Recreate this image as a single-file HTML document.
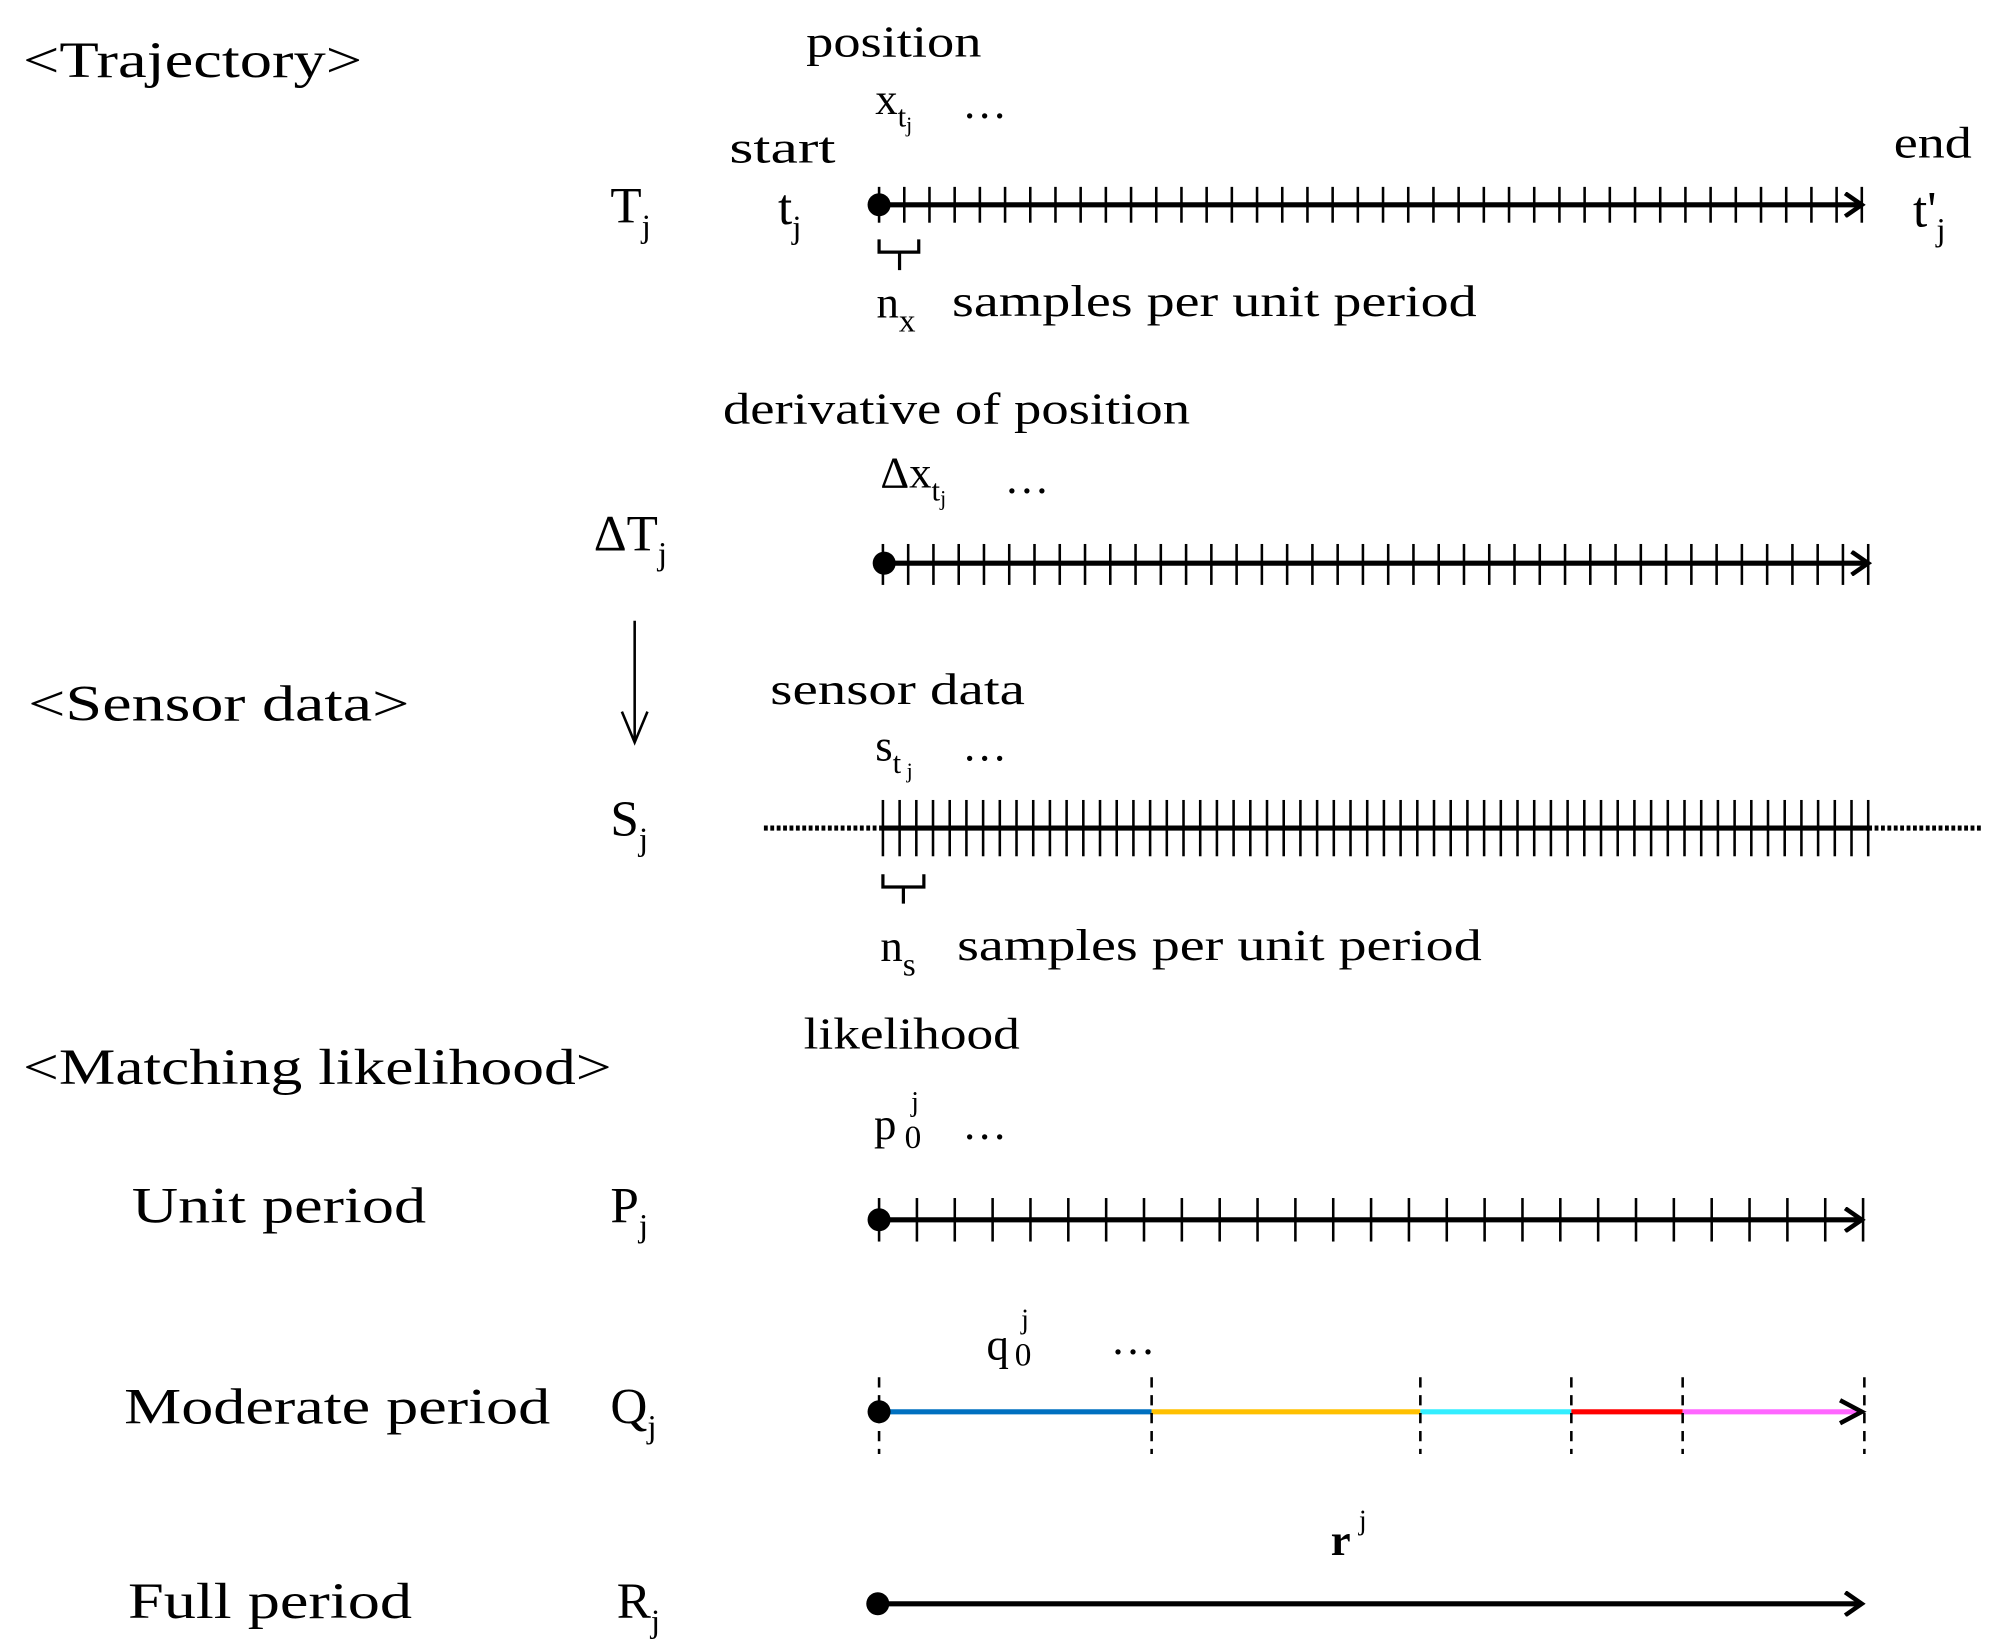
<!DOCTYPE html>
<html><head><meta charset="utf-8"><style>
html,body{margin:0;padding:0;background:#fff;}
svg{display:block;}
text{font-family:"Liberation Serif",serif;fill:#000;}
</style></head><body>
<svg id="s" width="2000" height="1646" viewBox="0 0 1563 1286" preserveAspectRatio="none" xmlns="http://www.w3.org/2000/svg">
<defs>
<marker id="ah" viewBox="0 0 20 20" refX="17" refY="10" markerWidth="20" markerHeight="20" markerUnits="userSpaceOnUse" orient="auto">
<path d="M4,1 L17,10 L4,19" fill="none" stroke="#000" stroke-width="3.5"/>
</marker>
</defs>
<g font-size="40" lengthAdjust="spacingAndGlyphs">
<text x="18" y="60" textLength="265" lengthAdjust="spacingAndGlyphs">&lt;Trajectory&gt;</text>
<text x="22" y="563" textLength="298" lengthAdjust="spacingAndGlyphs">&lt;Sensor data&gt;</text>
<text x="18" y="847" textLength="460" lengthAdjust="spacingAndGlyphs">&lt;Matching likelihood&gt;</text>
<text x="103" y="955" textLength="230" lengthAdjust="spacingAndGlyphs">Unit period</text>
<text x="97" y="1112" textLength="333" lengthAdjust="spacingAndGlyphs">Moderate period</text>
<text x="100" y="1264" textLength="222" lengthAdjust="spacingAndGlyphs">Full period</text>
</g>
<g font-size="40">
<text x="477" y="174">T<tspan font-size="26" dy="11">j</tspan></text>
<text x="464" y="430">ΔT<tspan font-size="26" dy="11">j</tspan></text>
<text x="477" y="653">S<tspan font-size="26" dy="11">j</tspan></text>
<text x="477" y="955">P<tspan font-size="26" dy="11">j</tspan></text>
<text x="477" y="1112">Q<tspan font-size="26" dy="11">j</tspan></text>
<text x="482" y="1264">R<tspan font-size="26" dy="11">j</tspan></text>
<text x="608" y="175">t<tspan font-size="26" dy="11">j</tspan></text>
<text x="1495" y="177">t'<tspan font-size="26" dy="11">j</tspan></text>
</g>
<g font-size="35">
<text x="630" y="44" textLength="137" lengthAdjust="spacingAndGlyphs">position</text>
<text x="570" y="127" textLength="83" lengthAdjust="spacingAndGlyphs">start</text>
<text x="1480" y="123" textLength="61" lengthAdjust="spacingAndGlyphs">end</text>
<text x="565" y="331" textLength="365" lengthAdjust="spacingAndGlyphs">derivative of position</text>
<text x="602" y="550" textLength="199" lengthAdjust="spacingAndGlyphs">sensor data</text>
<text x="628" y="819" textLength="169" lengthAdjust="spacingAndGlyphs">likelihood</text>
<text x="744" y="247" textLength="410" lengthAdjust="spacingAndGlyphs">samples per unit period</text>
<text x="748" y="750" textLength="410" lengthAdjust="spacingAndGlyphs">samples per unit period</text>
<text x="684" y="89">x<tspan font-size="24" dy="10">t</tspan><tspan font-size="17" dy="4">j</tspan></text>
<text x="752" y="92">…</text>
<text x="688" y="381">Δx<tspan font-size="24" dy="10">t</tspan><tspan font-size="17" dy="4">j</tspan></text>
<text x="785" y="385">…</text>
<text x="684" y="594">s<tspan font-size="24" dy="10">t</tspan><tspan font-size="17" dy="4"> j</tspan></text>
<text x="752" y="594">…</text>
<text x="685" y="248">n<tspan font-size="26" dy="11">x</tspan></text>
<text x="688" y="751">n<tspan font-size="26" dy="11">s</tspan></text>
<text x="683" y="890">p</text><text x="707" y="897" font-size="26">0</text><text x="712" y="868" font-size="22">j</text>
<text x="752" y="890">…</text>
<text x="771" y="1062">q</text><text x="793" y="1067" font-size="26">0</text><text x="798" y="1038" font-size="22">j</text>
<text x="868" y="1058">…</text>
<text x="1040" y="1215" font-weight="bold">r</text><text x="1062" y="1195" font-size="22">j</text>
</g>
<g id="lines" stroke="#000" fill="none">
<line x1="687" y1="160" x2="1455" y2="160" stroke-width="4" marker-end="url(#ah)"/>
<line x1="690" y1="440" x2="1460" y2="440" stroke-width="4" marker-end="url(#ah)"/>
<line x1="690" y1="647" x2="1460" y2="647" stroke-width="4"/>
<line x1="597" y1="647" x2="690" y2="647" stroke-width="4" stroke-dasharray="3,2"/>
<line x1="1460" y1="647" x2="1548" y2="647" stroke-width="4" stroke-dasharray="3,2"/>
<line x1="687" y1="953" x2="1455" y2="953" stroke-width="4" marker-end="url(#ah)"/>
<line x1="687" y1="1253" x2="1455" y2="1253" stroke-width="4" marker-end="url(#ah)"/>
<line x1="496" y1="485" x2="496" y2="578" stroke-width="2"/>
<path d="M486,556 L496,580 L506,556" stroke-width="2"/>
<path d="M687,187 V197 H718 V187 M703,197 V211" stroke-width="2.5"/>
<path d="M690,683 V693 H722 V683 M706,693 V706" stroke-width="2.5"/>
</g>
<g id="ticks" stroke="#000" stroke-width="2"></g>
<g stroke-width="4">
<line x1="687" y1="1103" x2="900" y2="1103" stroke="#0070C0"/>
<line x1="900" y1="1103" x2="1110" y2="1103" stroke="#FFC000"/>
<line x1="1110" y1="1103" x2="1228" y2="1103" stroke="#33EEFF"/>
<line x1="1228" y1="1103" x2="1315" y2="1103" stroke="#FF0000"/>
<line x1="1315" y1="1103" x2="1455" y2="1103" stroke="#FF66FF"/>
</g>
<path d="M1438,1094 L1455,1103 L1438,1112" stroke="#000" stroke-width="3.5" fill="none"/>
<g stroke="#000" stroke-width="2" stroke-dasharray="8,6">
<line x1="687" y1="1076" x2="687" y2="1136"/>
<line x1="900" y1="1076" x2="900" y2="1136"/>
<line x1="1110" y1="1076" x2="1110" y2="1136"/>
<line x1="1228" y1="1076" x2="1228" y2="1136"/>
<line x1="1315" y1="1076" x2="1315" y2="1136"/>
<line x1="1457" y1="1076" x2="1457" y2="1136"/>
</g>
<circle cx="687" cy="160" r="9"/>
<circle cx="691" cy="440" r="9"/>
<circle cx="687" cy="953" r="9"/>
<circle cx="687" cy="1103" r="9"/>
<circle cx="686" cy="1253" r="9"/>
</svg>
<script>
var g=document.getElementById('ticks'),ns='http://www.w3.org/2000/svg';
function t(x0,x1,n,y0,y1){for(var i=0;i<=n;i++){var x=x0+(x1-x0)*i/n;var l=document.createElementNS(ns,'line');l.setAttribute('x1',x);l.setAttribute('x2',x);l.setAttribute('y1',y0);l.setAttribute('y2',y1);g.appendChild(l);}}
t(687,1455,39,146,174);
t(690,1460,39,425,457);
t(690,1460,59,625,669);
t(687,1456,26,936,970);
</script>
</body></html>
